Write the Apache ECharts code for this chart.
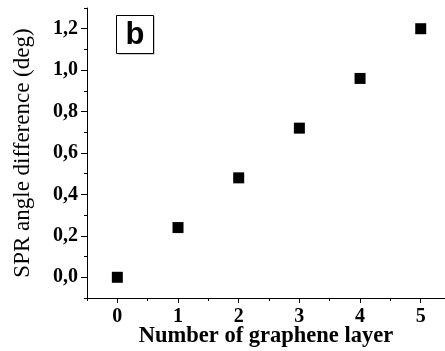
<!DOCTYPE html>
<html><head><meta charset="utf-8">
<script src="https://cdn.jsdelivr.net/npm/echarts@6/dist/echarts.min.js"></script>
<style>html,body{margin:0;padding:0;background:#fff}#c{width:445px;height:351px}</style>
</head><body><div id="c"></div>
<script>
var layers = [0, 1, 2, 3, 4, 5];
var angleDiff = [0.00, 0.24, 0.48, 0.72, 0.96, 1.20];
var yTicks = [0.0, 0.2, 0.4, 0.6, 0.8, 1.0, 1.2];
var yMinorTicks = [-0.1, 0.1, 0.3, 0.5, 0.7, 0.9, 1.1, 1.3];
var xMinorTicks = [-0.5, 0.5, 1.5, 2.5, 3.5, 4.5];
var panelLabel = 'b';

var chart = echarts.init(document.getElementById('c'));
var serif = '"Liberation Serif", "Times New Roman", serif';
var lineStyle = {color: '#000', width: 1};
chart.setOption({
  animation: false,
  grid: {left: 87, right: 0, top: 8, bottom: 53, outerBoundsMode: 'none', containLabel: false},
  xAxis: [{
    type: 'value', min: -0.5, max: 5.4,
    axisLine: {show: true, onZero: false, lineStyle: lineStyle},
    axisTick: {show: true, inside: false, length: 5, lineStyle: lineStyle, customValues: layers},
    splitLine: {show: false},
    axisLabel: {customValues: layers, color: '#000', fontFamily: serif, fontWeight: 'bold', fontSize: 20, margin: 9,
      formatter: function (v) { return String(v); }},
    name: 'Number of graphene layer', nameLocation: 'middle', nameGap: 27, nameMoveOverlap: false,
    nameTextStyle: {color: '#000', fontFamily: serif, fontWeight: 'bold', fontSize: 22.5}
  }, {
    type: 'value', min: -0.5, max: 5.4, position: 'bottom',
    axisLine: {show: false, onZero: false},
    axisTick: {show: true, inside: false, length: 3, lineStyle: lineStyle, customValues: xMinorTicks},
    axisLabel: {show: false}, splitLine: {show: false}
  }],
  yAxis: [{
    type: 'value', min: -0.1, max: 1.3,
    axisLine: {show: true, onZero: false, lineStyle: lineStyle},
    axisTick: {show: true, inside: false, length: 6, lineStyle: lineStyle, customValues: yTicks},
    splitLine: {show: false},
    axisLabel: {customValues: yTicks, color: '#000', fontFamily: serif, fontWeight: 'bold', fontSize: 20, margin: 9,
      formatter: function (v) { return v.toFixed(1).replace('.', ','); }},
    name: 'SPR angle difference (deg)', nameLocation: 'middle', nameGap: 53, nameRotate: 90, nameMoveOverlap: false,
    nameTextStyle: {color: '#000', fontFamily: serif, fontSize: 23}
  }, {
    type: 'value', min: -0.1, max: 1.3, position: 'left',
    axisLine: {show: false, onZero: false},
    axisTick: {show: true, inside: false, length: 3, lineStyle: lineStyle, customValues: yMinorTicks},
    axisLabel: {show: false}, splitLine: {show: false}
  }],
  graphic: [{
    type: 'group', left: 116, top: 15,
    children: [
      {type: 'rect', shape: {x: 1, y: 1, width: 37, height: 38}, style: {fill: '#999'}},
      {type: 'rect', shape: {x: 0, y: 0, width: 37, height: 38}, style: {fill: '#fff', stroke: '#000', lineWidth: 1}},
      {type: 'text', x: 18.5, y: 20, style: {text: panelLabel, font: 'bold 31px "Liberation Sans", Arial, sans-serif', fill: '#000', align: 'center', verticalAlign: 'middle'}}
    ]
  }],
  series: [{
    type: 'scatter', symbol: 'rect', symbolSize: 11,
    itemStyle: {color: '#000', opacity: 1},
    data: layers.map(function (x, i) { return [x, angleDiff[i]]; })
  }]
});
</script></body></html>
